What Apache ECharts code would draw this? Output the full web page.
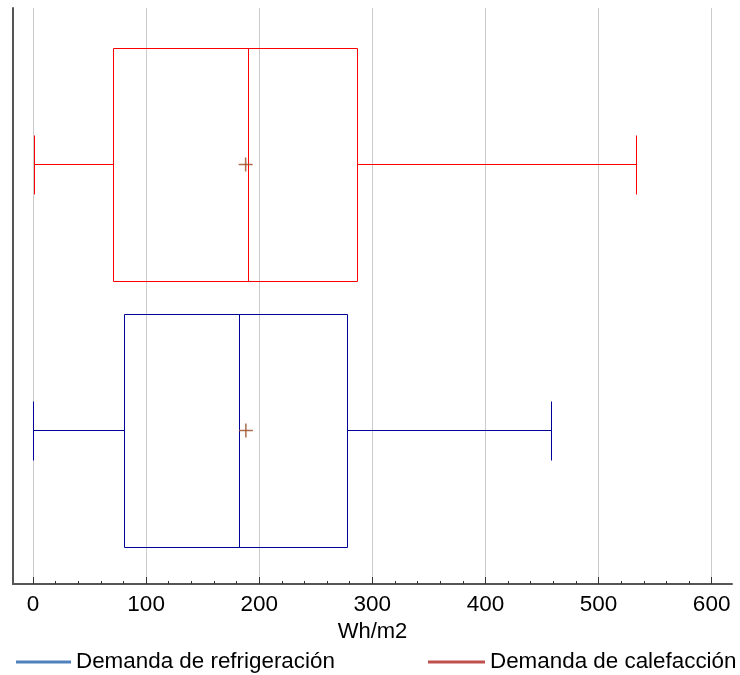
<!DOCTYPE html>
<html>
<head>
<meta charset="utf-8">
<title>Demanda Wh/m2</title>
<script src="https://cdn.jsdelivr.net/npm/echarts@6/dist/echarts.min.js"></script>
<style>
  html, body { margin: 0; padding: 0; background: #fff; }
  #chart { width: 740px; height: 675px; }
</style>
</head>
<body>
<div id="chart"></div>
<script>
    // series names (legend order) and position on the vertical axis
    var seriesNames = ['Demanda de refrigeración', 'Demanda de calefacción'];
    var positions = [1, 2];

    // box statistics, Wh/m2
    var minVals = [0, 0.5];
    var q1Vals = [80.5, 71];
    var medianVals = [182.5, 190.5];
    var q3Vals = [278, 286.5];
    var maxVals = [457.7, 533.5];
    var meanVals = [188.2, 188];

    // axis ticks
    var majorTicks = [0, 100, 200, 300, 400, 500, 600];
    var minorTicks = [20, 40, 60, 80, 120, 140, 160, 180, 220, 240, 260, 280,
        320, 340, 360, 380, 420, 440, 460, 480, 520, 540, 560, 580];

    var boxColors = ['#000096', '#ff0000'];
    var legendColors = ['#4f81bd', '#c0504d'];
    var meanColor = '#a0522d';
    var FONT = '"Liberation Sans", Arial, sans-serif';

    var BOX_HALF = 0.437;  // half box height, in y units
    var CAP_HALF = 0.11;   // half whisker cap height

    function px(v) {
        return Math.round(v) + 0.5;
    }

    function renderBox(params, api) {
        var pos = api.value(0);
        var lo = api.coord([api.value(1), pos]);
        var q1 = api.coord([api.value(2), pos]);
        var md = api.coord([api.value(3), pos]);
        var q3 = api.coord([api.value(4), pos]);
        var hi = api.coord([api.value(5), pos]);
        var mn = api.coord([api.value(6), pos]);
        var half = api.size([0, BOX_HALF])[1];
        var cap = api.size([0, CAP_HALF])[1];
        var color = api.visual('color');
        var y = px(lo[1]);
        var top = px(y - half), bot = px(y + half);
        var lineStyle = { stroke: color, lineWidth: 1, fill: null };
        function seg(x1, y1, x2, y2) {
            return { type: 'line', shape: { x1: x1, y1: y1, x2: x2, y2: y2 }, style: lineStyle, silent: true };
        }
        var meanStyle = { stroke: meanColor, lineWidth: 1.5, opacity: 0.85 };
        return {
            type: 'group',
            children: [
                { type: 'rect', shape: { x: px(q1[0]), y: top, width: px(q3[0]) - px(q1[0]), height: bot - top },
                  style: lineStyle },
                seg(px(md[0]), top, px(md[0]), bot),
                seg(px(lo[0]), y, px(q1[0]), y),
                seg(px(q3[0]), y, px(hi[0]), y),
                seg(px(lo[0]), px(y - cap), px(lo[0]), px(y + cap)),
                seg(px(hi[0]), px(y - cap), px(hi[0]), px(y + cap)),
                { type: 'line', shape: { x1: mn[0] - 7, y1: y, x2: mn[0] + 7, y2: y }, style: meanStyle },
                { type: 'line', shape: { x1: mn[0], y1: y - 7, x2: mn[0], y2: y + 7 }, style: meanStyle }
            ]
        };
    }

    var myChart = echarts.init(document.getElementById('chart'));

    var seriesList = [];
    for (var i = 0; i < seriesNames.length; i++) {
        seriesList.push({
            name: seriesNames[i],
            type: 'custom',
            xAxisIndex: 0,
            yAxisIndex: 0,
            renderItem: renderBox,
            encode: { x: [1, 2, 3, 4, 5, 6], y: 0 },
            itemStyle: { color: boxColors[i] },
            data: [[positions[i], minVals[i], q1Vals[i], medianVals[i], q3Vals[i], maxVals[i], meanVals[i]]]
        });
    }

    myChart.setOption({
        animation: false,
        grid: { left: 13, right: 8, top: 8, bottom: 91, containLabel: false },
        legend: [
            {
                data: [{ name: seriesNames[0], itemStyle: { color: legendColors[0] } }],
                left: 16, top: 651, padding: 0,
                icon: 'rect', itemWidth: 55, itemHeight: 3,
                textStyle: { fontSize: 22.4, color: '#000', fontFamily: FONT }
            },
            {
                data: [{ name: seriesNames[1], itemStyle: { color: legendColors[1] } }],
                left: 428, top: 651, padding: 0,
                icon: 'rect', itemWidth: 57, itemHeight: 3,
                textStyle: { fontSize: 22.4, color: '#000', fontFamily: FONT }
            }
        ],
        xAxis: [
            {
                type: 'value',
                position: 'bottom',
                min: -17.7,
                max: 618,
                name: 'Wh/m2',
                nameLocation: 'middle',
                nameGap: 29,
                nameTextStyle: { fontSize: 22, color: '#000', fontFamily: FONT },
                axisLine: { show: true, onZero: false, lineStyle: { color: '#555', width: 2 } },
                axisTick: { show: true, inside: true, length: 7, customValues: majorTicks,
                    lineStyle: { color: '#333', width: 1 } },
                axisLabel: { customValues: majorTicks, margin: 9, fontSize: 22.5, color: '#000', fontFamily: FONT },
                splitLine: { show: true, lineStyle: { color: '#cccccc', width: 1 } }
            },
            {
                type: 'value',
                position: 'bottom',
                min: -17.7,
                max: 618,
                axisLine: { show: false, onZero: false },
                axisTick: { show: true, inside: true, length: 3, customValues: minorTicks,
                    lineStyle: { color: '#333', width: 1 } },
                axisLabel: { show: false },
                splitLine: { show: false }
            }
        ],
        yAxis: {
            type: 'value',
            min: 0.423,
            max: 2.585,
            axisLine: { show: true, onZero: false, lineStyle: { color: '#555', width: 2 } },
            axisTick: { show: false },
            axisLabel: { show: false },
            splitLine: { show: false }
        },
        series: seriesList
    });

    window.addEventListener('resize', function () {
        myChart.resize();
    });
</script>
</body>
</html>
